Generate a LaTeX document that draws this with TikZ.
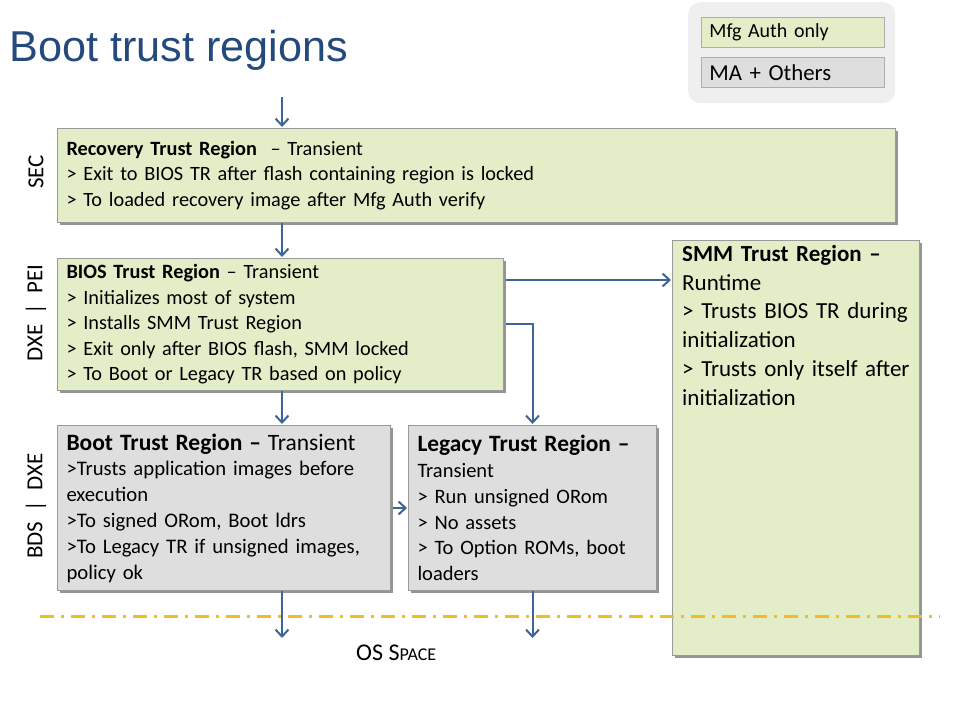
\documentclass[tikz,border=0pt]{standalone}
\usepackage{fontspec}
\setmainfont{Carlito}
\newfontfamily\titlefont{Liberation Sans}
\usetikzlibrary{arrows.meta,shadows,calc}
\definecolor{grn}{HTML}{E3EEC8}
\definecolor{gry}{HTML}{DEDEDE}
\definecolor{edgec}{HTML}{9A9A9A}
\definecolor{arr}{HTML}{3D6597}
\definecolor{ttl}{HTML}{24497C}
\definecolor{gold}{HTML}{F0BE22}
\definecolor{legbg}{HTML}{EFEFEF}
\newcommand{\fsz}[2]{\fontsize{#1}{#2}\selectfont}
\begin{document}
\begin{tikzpicture}[x=1pt,y=-1pt,
  box/.style={draw=edgec, line width=1pt, anchor=north west, inner ysep=0pt, inner xsep=9pt, align=left,
    drop shadow={shadow xshift=2pt,shadow yshift=-2pt,fill=black!60,opacity=0.7}},
  gbox/.style={box, fill=grn},
  ybox/.style={box, fill=gry},
  flow/.style={draw=arr, line width=2pt, shorten >=1pt, -{Straight Barb[length=7pt,width=13pt,line width=2pt]}},
  side/.style={rotate=90, inner sep=0pt, font=\fsz{23}{26}},
  legitem/.style={draw=edgec!80, line width=0.8pt, anchor=north west, inner ysep=0pt, inner xsep=8pt, align=left,
    minimum width=183pt, minimum height=30pt, text width=167pt},
]
\useasboundingbox (0,0) rectangle (960,720);

% title
\node[anchor=base west, text=ttl, inner sep=0pt, font=\titlefont\fsz{43.2}{48}] (title) at (9,61) {Boot trust regions};

% legend
\node[fill=legbg, rounded corners=12pt, minimum width=207pt, minimum height=101pt, anchor=north west, inner sep=0pt] (legend) at (688,2) {};
\node[legitem, fill=grn, font=\fsz{20}{22}] (l1) at (701,17) {Mfg Auth only};
\node[legitem, fill=gry, font=\fsz{22.8}{25}] (l2) at (701,57) {MA + Others};

% boxes
\node[gbox, minimum width=838pt, minimum height=94pt, text width=820pt, font=\fsz{20.3}{25.5}] (rec) at (57,128)
 {\textbf{Recovery Trust Region}\ \ – Transient\\
  > Exit to BIOS TR after flash containing region is locked\\
  > To loaded recovery image after Mfg Auth verify};

\node[gbox, minimum width=446pt, minimum height=132pt, text width=428pt, font=\fsz{20.3}{25.5}] (bios) at (57,258)
 {\textbf{BIOS Trust Region} – Transient\\
  > Initializes most of system\\
  > Installs SMM Trust Region\\
  > Exit only after BIOS flash, SMM locked\\
  > To Boot or Legacy TR based on policy};

\node[ybox, minimum width=333pt, minimum height=165pt, text width=315pt, font=\fsz{20.7}{25.8}] (boot) at (57,425)
 {{\fsz{23.5}{25.8}\textbf{Boot Trust Region –} Transient}\\
  >Trusts application images before\\
  execution\\
  >To signed ORom, Boot ldrs\\
  >To Legacy TR if unsigned images,\\
  policy ok};

\node[ybox, minimum width=248pt, minimum height=165pt, text width=230pt, font=\fsz{20.5}{25.8}] (leg) at (408,425)
 {{\fsz{23.4}{25.8}\textbf{Legacy Trust Region –}}\\
  Transient\\
  > Run unsigned ORom\\
  > No assets\\
  > To Option ROMs, boot\\
  loaders};

\node[gbox, minimum width=247pt, minimum height=415pt] (smm) at (672,240) {};
\node[anchor=north west, inner sep=0pt, align=left, text width=236pt, font=\fsz{23}{28.8}] (smmt) at (682,245)
 {\textbf{SMM Trust Region –}\\
  Runtime\\
  > Trusts BIOS TR during\\
  initialization\\
  > Trusts only itself after\\
  initialization};

% side labels
\node[side] (sec) at (36,172) {SEC};
\node[side] (pei) at (36,313) {DXE\hspace{0.45em}|\hspace{0.45em}PEI};
\node[side] (dxe) at (36,506) {BDS\hspace{0.45em}|\hspace{0.45em}DXE};

% OS space boundary
\coordinate (dl) at (40,616);
\coordinate (dr) at (940,616);
\draw[gold, line width=3pt, dash pattern=on 14pt off 7pt on 3pt off 7pt] (dl) -- (dr);

% connectors
\coordinate (in) at (282,97);
\draw[flow] (in) -- (in |- rec.north);
\draw[flow] (rec.south -| in) -- (bios.north -| in);
\coordinate (b1) at ($(bios.north east)+(2,22)$);
\draw[flow] (b1) -- (b1 -| smm.west);
\coordinate (b2) at ($(bios.north east)+(2,66)$);
\draw[flow] (b2) -| (leg.north);
\draw[flow] (bios.south -| in) -- (boot.north -| in);
\draw[flow] ($(boot.east)+(2,0)$) -- (leg.west);
\coordinate (o1) at (282,639);
\coordinate (o2) at (leg.south |- o1);
\draw[flow] (boot.south -| in) -- (o1);
\draw[flow] (leg.south) -- (o2);

\node[anchor=base west, inner sep=0pt, font=\fsz{24}{26}] (os) at (356,660) {OS S{\fsz{18}{20}PACE}};
\end{tikzpicture}
\end{document}
